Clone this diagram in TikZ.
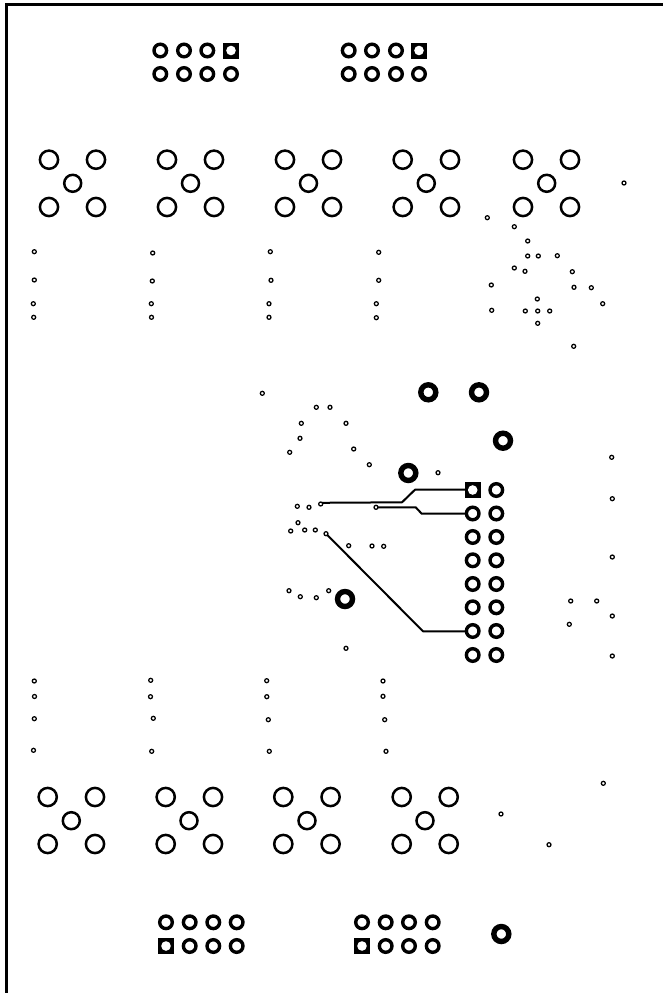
\documentclass[tikz,border=0pt]{standalone}
\tikzset{
  viaring/.style={draw=black,line width=1.25pt,fill=white},
  padring/.style={draw=black,line width=2.5pt,fill=white},
  hdrring/.style={draw=black,line width=3.4pt,fill=white},
  fatring/.style={draw=black,line width=5.4pt,fill=white},
  hdrsquare/.style={fill=black},
  trace/.style={draw=black,line width=2pt,line join=round},
  board/.style={draw=black,line width=2.2pt}
}
\newcommand{\xpad}[6]{% x1 x2 xc y1 y2 yc
  \foreach \pa/\pb in {#1/#4,#2/#4,#1/#5,#2/#5} \path[padring] (\pa,\pb) circle (9.1);
  \path[padring] (#3,#6) circle (8.5);
}
\newcommand{\hdrsq}[2]{%
  \fill[hdrsquare] (#1-8,#2-8) rectangle (#1+8,#2+8);
  \fill[white] (#1,#2) circle (4.8);
}
\begin{document}
\begin{tikzpicture}[x=1pt,y=-1pt]
\useasboundingbox (0,0) rectangle (663,993);
\fill[white] (0,0) rectangle (663,993);
% board outline
\draw[board] (6.5,993) -- (6.5,4.5) -- (663,4.5);
% traces
\coordinate (ta1) at (320.7,502.8);
\coordinate (ta2) at (402,502.3);
\coordinate (ta3) at (415,489.7);
\coordinate (ja1) at (472.7,489.7);
\coordinate (tb1) at (376,507.3);
\coordinate (tb2) at (415.7,507.3);
\coordinate (tb3) at (421.7,513.7);
\coordinate (jb2) at (472.7,513.7);
\coordinate (tc1) at (326,533.7);
\coordinate (tc2) at (423,631.3);
\coordinate (jc7) at (472.7,631.3);
\draw[trace] (ta1) -- (ta2) -- (ta3) -- (ja1);
\draw[trace] (tb1) -- (tb2) -- (tb3) -- (jb2);
\draw[trace] (tc1) -- (tc2) -- (jc7);
% large five-pad groups, top
\xpad{49}{96}{72.7}{159.7}{207}{183.3}
\xpad{167}{214}{190.5}{159.7}{207}{183.3}
\xpad{285}{332}{308.5}{159.7}{207}{183.3}
\xpad{402.7}{450}{426.3}{159.7}{207}{183.3}
\xpad{523}{570}{546.7}{159.7}{207}{183.3}
% large five-pad groups, bottom
\xpad{47.7}{95}{71.3}{797}{844}{820.7}
\xpad{165.7}{213}{189}{797}{844}{820.7}
\xpad{283.3}{330.6}{307}{797}{844}{820.7}
\xpad{401.7}{448.7}{425}{797}{844}{820.7}
% 2x4 headers and central 2x8 header: round pins
\foreach \px/\py in {
 160.3/74,184/74,207.3/74,231/74,160.3/50.5,184/50.5,207.3/50.5,
 348.7/74,372/74,396/74,419/74,348.7/50.5,372/50.5,396/50.5,
 166/922.3,189.7/922.3,213.3/922.3,236.7/922.3,189.7/946,213.3/946,236.7/946,
 362/922.3,385.7/922.3,409/922.3,432.7/922.3,385.7/946,409/946,432.7/946,
 472.7/513.5,472.7/537,472.7/560.3,472.7/584,472.7/607.3,472.7/631,472.7/655,
 496.3/490,496.3/513.5,496.3/537,496.3/560.3,496.3/584,496.3/607.3,496.3/631,496.3/655}
  \path[hdrring] (\px,\py) circle (6.3);
% square first pins
\hdrsq{231}{50.5}
\hdrsq{419}{50.5}
\hdrsq{166}{946}
\hdrsq{362}{946}
\hdrsq{472.7}{490}
% heavy rings
\foreach \px/\py in {428.3/392.3,479/392.3,503/440.7,408.3/473,345/599,501.3/934}
  \path[fatring] (\px,\py) circle (7.5);
% small vias
\foreach \px/\py in {
 34.3/251.7,34.3/280,33.3/303.7,33.7/317.3,
 152.7/253,152.3/281,151.3/303.7,151.5/317.3,
 270.3/251.7,271/280.3,269/303.7,269/317.3,
 378.7/252.3,378.7/280.3,376.3/303.7,376.3/317.7,
 624/183,487.3/217.7,514.3/226.7,527.7/241,527.7/256,538.3/256,557.3/255.7,
 514.3/268,525/271.3,572.3/271.7,574/287.3,591.3/287.7,491.3/285,602.7/303.7,
 537.3/299,491.7/310.3,525.3/311,537.7/311,549.7/311,537.7/323.3,573.7/346.3,
 262.3/393.3,316.3/407.3,330/407.3,301.3/423.3,346/423.3,300/438.3,289.7/452.3,
 353.7/449,369.3/464.7,438/472.7,
 297.3/506.3,309/507.3,320.7/504,376/507.3,
 298/522.7,290.7/531,304.7/530,315.3/530,326/533.7,
 348.7/545.7,372/546,383.7/546.3,
 289/590.7,300.3/596.7,316.3/597.7,328.7/590.7,346/648.3,
 611.7/457.3,612.3/498.7,612.3/557,570.7/601,596.7/601,612.3/616,569.3/624.3,612.3/656,
 34.3/681,34.5/696.5,34.3/718.7,33.5/750.3,
 150.7/680.3,150.5/696.7,153.3/718.3,151.7/751.3,
 266.7/680.7,266.8/696.7,268.3/719.7,269.3/751.3,
 383/681,383/696.3,384.7/719.7,386/751.3,
 603.3/783.3,501/814,549/844.7}
  \path[viaring] (\px,\py) circle (2);
\end{tikzpicture}
\end{document}
